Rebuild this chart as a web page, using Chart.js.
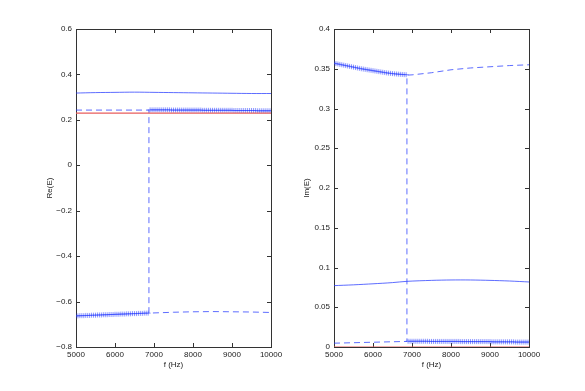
<!DOCTYPE html>
<html>
<head>
<meta charset="utf-8">
<script src="https://cdn.jsdelivr.net/npm/chart.js@4/dist/chart.umd.min.js"></script>
<style>
  html, body { margin: 0; padding: 0; background: #fff; }
  #wrap { position: relative; width: 585px; height: 391px; overflow: hidden; background: #fff; }
  canvas { position: absolute; top: 0; }
  #cRe { left: 0; }
  #cIm { left: 290px; }
</style>
</head>
<body>
<div id="wrap">
  <canvas id="cRe" width="290" height="391"></canvas>
  <canvas id="cIm" width="295" height="391"></canvas>
</div>
<script>
// ---------- data ----------
const xTicks = [5000, 6000, 7000, 8000, 9000, 10000];
const xTickLabels = ['5000', '6000', '7000', '8000', '9000', '10000'];

const reTicks = [-0.8, -0.6, -0.4, -0.2, 0, 0.2, 0.4, 0.6];
const reTickLabels = ['\u22120.8', '\u22120.6', '\u22120.4', '\u22120.2', '0', '0.2', '0.4', '0.6'];
const imTicks = [0, 0.05, 0.1, 0.15, 0.2, 0.25, 0.3, 0.35, 0.4];
const imTickLabels = ['0', '0.05', '0.1', '0.15', '0.2', '0.25', '0.3', '0.35', '0.4'];

// marker frequencies
const fMarkLow = [5000,5050,5100,5150,5200,5250,5300,5350,5400,5450,5500,5550,5600,5650,5700,5750,5800,5850,5900,5950,
                  6000,6050,6100,6150,6200,6250,6300,6350,6400,6450,6500,6550,6600,6650,6700,6750,6800,6850];
const fMarkHigh = [6900,6950,7000,7050,7100,7150,7200,7250,7300,7350,7400,7450,7500,7550,7600,7650,7700,7750,7800,7850,
                   7900,7950,8000,8050,8100,8150,8200,8250,8300,8350,8400,8450,8500,8550,8600,8650,8700,8750,8800,8850,
                   8900,8950,9000,9050,9100,9150,9200,9250,9300,9350,9400,9450,9500,9550,9600,9650,9700,9750,9800,9850,
                   9900,9950,10000];

// Re(E)
const reMarkLow = [-0.663,-0.663,-0.662,-0.662,-0.662,-0.661,-0.661,-0.661,-0.660,-0.660,-0.660,-0.659,-0.659,-0.659,-0.658,-0.658,-0.658,-0.657,-0.657,-0.657,
                   -0.656,-0.656,-0.656,-0.655,-0.655,-0.655,-0.654,-0.654,-0.654,-0.653,-0.653,-0.653,-0.652,-0.652,-0.652,-0.651,-0.651,-0.651];
const reMarkHigh = [0.244,0.244,0.244,0.244,0.244,0.244,0.244,0.244,0.244,0.244,0.244,
                    0.243,0.243,0.243,0.243,0.243,0.243,0.243,0.243,0.243,0.243,0.243,0.243,0.243,0.243,0.243,0.243,
                    0.242,0.242,0.242,0.242,0.242,0.242,0.242,0.242,0.242,0.242,0.242,0.242,0.242,0.242,0.242,0.242,
                    0.241,0.241,0.241,0.241,0.241,0.241,0.241,0.241,0.241,0.241,0.241,0.241,
                    0.240,0.240,0.240,0.240,0.240,0.240,0.240,0.240];
const reDashFreq = [5000,5500,6000,6500,6870,6870,7000,7500,8000,8500,9000,9500,10000];
const reDashVals = [0.243,0.243,0.243,0.243,0.243,-0.651,-0.650,-0.647,-0.645,-0.644,-0.645,-0.646,-0.648];
const reSolidFreq = [5000,5500,6000,6500,7000,7500,8000,8500,9000,9500,10000];
const reSolidVals = [0.318,0.320,0.321,0.322,0.321,0.320,0.319,0.318,0.317,0.316,0.316];
const reRefFreq = [5000, 10000];
const reRefVals = [0.23, 0.23];

// Im(E)
const imMarkLow = [0.3570,0.3565,0.3560,0.3555,0.3550,0.3545,0.3540,0.3535,0.3530,0.3525,0.3520,0.3515,0.3510,0.3505,0.3500,0.3496,0.3492,0.3488,0.3484,0.3480,
                   0.3476,0.3472,0.3468,0.3464,0.3460,0.3456,0.3452,0.3448,0.3445,0.3442,0.3439,0.3436,0.3434,0.3432,0.3430,0.3428,0.3426,0.3425];
const imMarkHigh = [0.0072,0.0072,0.0072,0.0072,0.0072,0.0072,0.0072,0.0072,0.0072,0.0072,0.0072,
                    0.0070,0.0070,0.0070,0.0070,0.0070,0.0070,0.0070,0.0070,0.0070,0.0070,0.0070,0.0070,0.0070,0.0070,0.0070,0.0070,
                    0.0068,0.0068,0.0068,0.0068,0.0068,0.0068,0.0068,0.0068,0.0068,0.0068,0.0068,0.0068,0.0068,0.0068,0.0068,0.0068,
                    0.0065,0.0065,0.0065,0.0065,0.0065,0.0065,0.0065,0.0065,0.0065,0.0065,0.0065,0.0065,
                    0.0062,0.0062,0.0062,0.0062,0.0062,0.0062,0.0062,0.0062];
const imDashFreq = [5000,5500,6000,6500,6870,6870,7000,7500,8000,8500,9000,9500,10000];
const imDashVals = [0.0048,0.0054,0.0060,0.0066,0.0070,0.3420,0.3423,0.3450,0.3487,0.3510,0.3525,0.3540,0.3550];
const imSolidFreq = [5000,5500,6000,6500,6870,7500,8000,8500,9000,9500,10000];
const imSolidVals = [0.0772,0.0782,0.0795,0.0810,0.0826,0.0838,0.0843,0.0843,0.0838,0.0830,0.0818];
const imRefFreq = [5000, 10000];
const imRefVals = [0, 0];

// ---------- helpers ----------
const BLUE = 'rgba(40,60,255,0.75)';
const MARK = 'rgba(45,65,255,0.55)';
const RED = 'rgb(232,92,92)';
const FONT = { family: "'Liberation Sans', Arial, sans-serif", size: 8 };

function pts(xs, ys) { return xs.map((x, i) => ({ x: x, y: ys[i] })); }

const boxPlugin = {
  id: 'matlabBox',
  beforeDatasetsDraw(chart) {
    const { ctx, chartArea: a, scales } = chart;
    ctx.save();
    ctx.strokeStyle = '#333';
    ctx.lineWidth = 1;
    ctx.strokeRect(Math.round(a.left) + 0.5, Math.round(a.top) + 0.5,
                   Math.round(a.right - a.left), Math.round(a.bottom - a.top));
    const tl = 4;
    ctx.beginPath();
    scales.x.ticks.forEach(t => {
      const px = Math.round(scales.x.getPixelForValue(t.value)) + 0.5;
      ctx.moveTo(px, a.bottom); ctx.lineTo(px, a.bottom - tl);
      ctx.moveTo(px, a.top); ctx.lineTo(px, a.top + tl);
    });
    scales.y.ticks.forEach(t => {
      const py = Math.round(scales.y.getPixelForValue(t.value)) + 0.5;
      ctx.moveTo(a.left, py); ctx.lineTo(a.left + tl, py);
      ctx.moveTo(a.right, py); ctx.lineTo(a.right - tl, py);
    });
    ctx.stroke();
    ctx.restore();
  }
};

function makeChart(id, cfg) {
  const datasets = [
    { data: pts(cfg.solidF, cfg.solidV), borderColor: BLUE, borderWidth: 1, pointRadius: 0, tension: 0.3 },
    { data: pts(cfg.refF, cfg.refV), borderColor: RED, borderWidth: 1.2, pointRadius: 0 },
    { data: pts(cfg.dashF, cfg.dashV), borderColor: BLUE, borderWidth: 1, borderDash: [6, 4], pointRadius: 0 },
    { data: pts(fMarkLow, cfg.markLow), showLine: false, pointStyle: 'cross', pointRadius: 2.5,
      borderColor: MARK, pointBorderColor: MARK, pointBorderWidth: 1 },
    { data: pts(fMarkHigh, cfg.markHigh), showLine: false, pointStyle: 'cross', pointRadius: 2.5,
      borderColor: MARK, pointBorderColor: MARK, pointBorderWidth: 1 }
  ];
  return new Chart(document.getElementById(id), {
    type: 'line',
    data: { datasets: datasets },
    plugins: [boxPlugin],
    options: {
      responsive: false,
      animation: false,
      devicePixelRatio: 1,
      layout: { padding: { left: cfg.padLeft, right: cfg.padRight, top: 29, bottom: 21 } },
      plugins: { legend: { display: false }, tooltip: { enabled: false } },
      scales: {
        x: {
          type: 'linear', min: 5000, max: 10000,
          grid: { display: false, drawTicks: false },
          border: { display: false },
          afterBuildTicks: s => { s.ticks = xTicks.map(v => ({ value: v })); },
          afterFit: s => { s.height = 23; },
          ticks: { color: '#222', font: FONT, padding: 3, maxRotation: 0, autoSkip: false,
                   callback: (v, i) => xTickLabels[i] },
          title: { display: true, text: 'f (Hz)', color: '#222', font: FONT, padding: 0 }
        },
        y: {
          type: 'linear', min: cfg.yMin, max: cfg.yMax,
          grid: { display: false, drawTicks: false },
          border: { display: false },
          afterBuildTicks: s => { s.ticks = cfg.yTicks.map(v => ({ value: v })); },
          afterFit: s => { s.width = cfg.yWidth; },
          ticks: { color: '#222', font: FONT, padding: 4, autoSkip: false,
                   callback: (v, i) => cfg.yLabels[i] },
          title: { display: true, text: cfg.yTitle, color: '#222', font: FONT, padding: 0 }
        }
      }
    }
  });
}

makeChart('cRe', {
  solidF: reSolidFreq, solidV: reSolidVals, refF: reRefFreq, refV: reRefVals,
  dashF: reDashFreq, dashV: reDashVals, markLow: reMarkLow, markHigh: reMarkHigh,
  yMin: -0.8, yMax: 0.6, yTicks: reTicks, yLabels: reTickLabels, yTitle: 'Re(E)',
  padLeft: 45, yWidth: 31, padRight: 19
});
makeChart('cIm', {
  solidF: imSolidFreq, solidV: imSolidVals, refF: imRefFreq, refV: imRefVals,
  dashF: imDashFreq, dashV: imDashVals, markLow: imMarkLow, markHigh: imMarkHigh,
  yMin: 0, yMax: 0.4, yTicks: imTicks, yLabels: imTickLabels, yTitle: 'Im(E)',
  padLeft: 12, yWidth: 32, padRight: 56
});
</script>
</body>
</html>
